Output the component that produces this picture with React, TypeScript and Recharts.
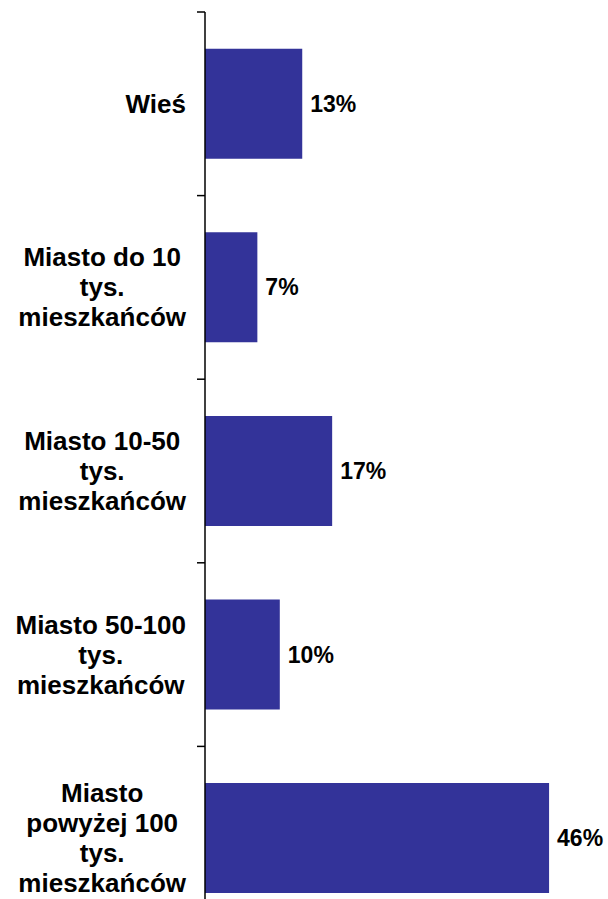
import { BarChart, Bar, XAxis, YAxis, LabelList } from 'recharts';

const categories = [
    'Wieś',
    'Miasto do 10\ntys.\nmieszkańców',
    'Miasto 10-50\ntys.\nmieszkańców',
    'Miasto 50-100\ntys.\nmieszkańców',
    'Miasto\npowyżej 100\ntys.\nmieszkańców',
];
const shares = [13, 7, 17, 10, 46];

const data = categories.map((name, i) => ({ name, value: shares[i] }));

const WIDTH = 608;
const HEIGHT = 930;
const MARGIN = { top: 12, right: 29, bottom: 0, left: 0 };
const AXIS_W = 205;
const FONT = '"Liberation Sans", Arial, sans-serif';
const CAT_SIZE = 26;
const LINE_H = 30;
const BAND = (HEIGHT - MARGIN.top - MARGIN.bottom) / categories.length;

let ctx: CanvasRenderingContext2D | null = null;
const measure = (s: string) => {
    if (!ctx) ctx = document.createElement('canvas').getContext('2d');
    if (!ctx) return s.length * CAT_SIZE * 0.6;
    ctx.font = `bold ${CAT_SIZE}px ${FONT}`;
    return ctx.measureText(s).width;
};

const CategoryTick = (props: any) => {
    const { y, payload } = props;
    const axisX = MARGIN.left + AXIS_W;
    const lines: string[] = String(payload.value).split('\n');
    const maxW = Math.max(...lines.map(measure));
    const cx = axisX - 19 - maxW / 2;
    const first = y - ((lines.length - 1) * LINE_H) / 2 + 9;
    return (
        <g>
            <line x1={axisX - 8} x2={axisX} y1={y - BAND / 2} y2={y - BAND / 2} stroke="#000" strokeWidth={1.5} />
            <text textAnchor="middle" fontFamily={FONT} fontSize={CAT_SIZE} fontWeight="bold" fill="#000">
                {lines.map((l, i) => (
                    <tspan key={i} x={cx} y={first + i * LINE_H}>
                        {l}
                    </tspan>
                ))}
            </text>
        </g>
    );
};

export default function App() {
    return (
        <div style={{ position: 'absolute', left: 0, top: 0, width: WIDTH, height: 899, overflow: 'hidden', background: '#fff' }}>
            <BarChart
                width={WIDTH}
                height={HEIGHT}
                data={data}
                layout="vertical"
                margin={MARGIN}
                barCategoryGap="20%"
            >
                <XAxis type="number" domain={[0, 50]} hide />
                <YAxis
                    type="category"
                    dataKey="name"
                    width={AXIS_W}
                    tickLine={false}
                    axisLine={{ stroke: '#000', strokeWidth: 1.5 }}
                    tick={<CategoryTick />}
                    interval={0}
                />
                <Bar dataKey="value" fill="#333399" isAnimationActive={false}>
                    <LabelList
                        dataKey="value"
                        position="right"
                        offset={8}
                        formatter={(v: any) => `${v}%`}
                        style={{ fontFamily: FONT, fontSize: 23, fontWeight: 'bold', fill: '#000' }}
                    />
                </Bar>
            </BarChart>
        </div>
    );
}
